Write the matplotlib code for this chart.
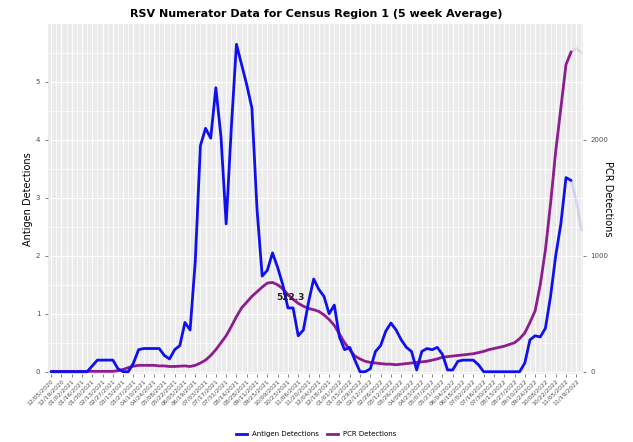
import datetime as dt
import numpy as np
import matplotlib
matplotlib.use("Agg")
import matplotlib.pyplot as plt
from matplotlib.lines import Line2D

# weekly series, first week 12/05/2020
start_date = dt.date(2020, 12, 5)

antigen = [
    0, 0, 0, 0, 0, 0, 0, 0, 0.1, 0.2,
    0.2, 0.2, 0.2, 0.05, 0, 0, 0.15, 0.38, 0.4, 0.4,
    0.4, 0.4, 0.28, 0.22, 0.38, 0.45, 0.85, 0.72, 1.9, 3.9,
    4.2, 4.03, 4.9, 4.05, 2.55, 4.2, 5.65, 5.3, 4.95, 4.55,
    2.8, 1.65, 1.75, 2.05, 1.8, 1.5, 1.1, 1.1, 0.62, 0.72,
    1.2, 1.6, 1.42, 1.3, 1.0, 1.15, 0.6, 0.38, 0.42, 0.2,
    0, 0, 0.05, 0.35, 0.45, 0.7, 0.84, 0.72, 0.55, 0.42,
    0.35, 0.03, 0.35, 0.4, 0.38, 0.42, 0.3, 0.03, 0.03, 0.18,
    0.2, 0.2, 0.2, 0.12, 0, 0, 0, 0, 0, 0,
    0, 0, 0.15, 0.55, 0.62, 0.6, 0.75, 1.3, 2.0, 2.55,
    3.35, 3.3, 2.95, 2.45,
]

pcr = [
    3, 3, 3, 3, 3, 3, 3, 3, 3, 3,
    3, 3, 3, 8, 20, 35, 48, 55, 55, 55,
    55, 50, 50, 45, 45, 48, 50, 45, 55, 75,
    100, 140, 190, 250, 310, 390, 475, 550, 600, 650,
    690, 730, 765, 770, 750, 715, 665, 625, 590, 565,
    545, 535, 520, 490, 450, 400, 325, 250, 190, 135,
    110, 90, 80, 75, 70, 65, 65, 60, 65, 70,
    75, 80, 85, 90, 100, 110, 125, 130, 135, 140,
    145, 150, 155, 165, 175, 190, 200, 210, 220, 235,
    250, 285, 335, 425, 525, 750, 1050, 1450, 1900, 2275,
    2650, 2760, 2790, 2750,
]

pcr_scale = 500  # PCR counts per antigen unit on the shared panel
label_text = "522.3"
label_week = 46.5
label_value = 1.28

n_weeks = len(antigen)
weeks = np.arange(n_weeks)
tick_weeks = np.arange(0, n_weeks - 1, 2)
tick_labels = [(start_date + dt.timedelta(weeks=int(w))).strftime("%m/%d/%Y") for w in tick_weeks]

blue = "#1010EE"
purple = "#8E1C8E"
faded = 101  # last weeks drawn washed out

fig = plt.figure(figsize=(6.33, 4.42), dpi=100)
ax = fig.add_axes([0.0758, 0.1538, 0.8452, 0.7919])
ax.set_facecolor("#EBEBEB")
for s in ax.spines.values():
    s.set_visible(False)

pcr_left = np.array(pcr) / pcr_scale
ax.plot(weeks[:faded + 1], pcr_left[:faded + 1], color=purple, lw=2.0, solid_capstyle="round", zorder=3)
ax.plot(weeks[faded:], pcr_left[faded:], color=purple, lw=2.0, alpha=0.12, zorder=3)
ax.plot(weeks[:faded + 1], antigen[:faded + 1], color=blue, lw=2.0, solid_capstyle="round", zorder=4)
ax.plot(weeks[faded:], antigen[faded:], color=blue, lw=2.0, alpha=0.12, zorder=4)

ax.text(label_week, label_value, label_text, fontsize=6.5, fontweight="bold",
        color="#222222", ha="center", va="center", zorder=5)

ax.set_xlim(-0.6, 103.3)
ax.set_ylim(-0.04, 6.0)
ax.set_yticks(range(0, 6))
ax.set_yticks(np.arange(0.5, 6, 1), minor=True)
ax.set_xticks(tick_weeks)
ax.set_xticks(tick_weeks + 1, minor=True)
ax.set_xticklabels(tick_labels, rotation=45, ha="right", rotation_mode="anchor",
                   fontsize=4.3, color="#4D4D4D")
ax.tick_params(axis="y", labelsize=5, colors="#4D4D4D", length=2, width=0.5)
ax.tick_params(axis="x", length=2, width=0.5, colors="#4D4D4D", pad=1)
ax.tick_params(which="minor", length=0)
ax.grid(which="major", color="white", lw=0.8)
ax.grid(which="minor", color="white", lw=0.5)
ax.set_axisbelow(True)
ax.set_ylabel("Antigen Detections", fontsize=7, color="black", labelpad=2)

ax2 = ax.twinx()
ax2.set_ylim(ax.get_ylim()[0] * pcr_scale, ax.get_ylim()[1] * pcr_scale)
ax2.set_yticks([0, 1000, 2000])
ax2.tick_params(axis="y", labelsize=5, colors="#4D4D4D", length=2, width=0.5)
for s in ax2.spines.values():
    s.set_visible(False)
ax2.set_ylabel("PCR Detections", fontsize=7, rotation=-90, labelpad=3)

fig.suptitle("RSV Numerator Data for Census Region 1 (5 week Average)",
             x=0.5, y=0.98, fontsize=8, fontweight="bold")

handles = [Line2D([], [], color=blue, lw=2), Line2D([], [], color=purple, lw=2)]
fig.legend(handles, ["Antigen Detections", "PCR Detections"], loc="center",
           bbox_to_anchor=(0.5, 0.018), ncol=2, frameon=False, fontsize=5,
           handlelength=1.5, columnspacing=1.2)

fig.savefig("out.png", dpi=100)
